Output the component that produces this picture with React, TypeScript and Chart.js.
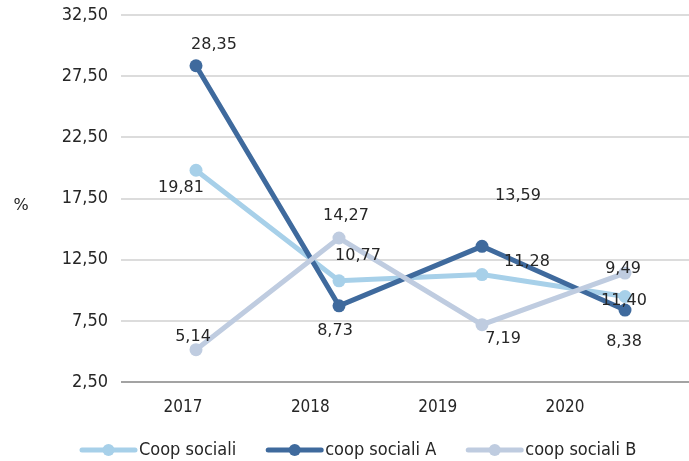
import React, { useEffect, useRef } from 'react';
import { Chart, registerables } from 'chart.js';

Chart.register(...registerables);

const categories = ['2017', '2018', '2019', '2020'];
const seriesNames = ['Coop sociali', 'coop sociali A', 'coop sociali B'];
const coopSociali = [19.81, 10.77, 11.28, 9.49];
const coopSocialiA = [28.35, 8.73, 13.59, 8.38];
const coopSocialiB = [5.14, 14.27, 7.19, 11.4];
const yMin = 2.5;
const yMax = 32.5;
const yStep = 5;

const seriesColors = ['#a7d0e9', '#3f6a9d', '#bfcce0'];

// label offsets (style): [dx, dy] per series per point
const labelOffsets = [
  [[-15, 18], [19, -25], [45, -13], [-2, -28]],
  [[18, -21], [-4, 25], [36, -50], [-1, 32]],
  [[-3, -13], [7, -22], [21, 14], [-1, 28]],
];

const fmt = (v: number) => Number(v).toFixed(2).replace('.', ',');

const dataLabelsPlugin = {
  id: 'dataLabels',
  afterDatasetsDraw(chart: any) {
    const ctx = chart.ctx;
    ctx.save();
    ctx.font = '16px "DejaVu Sans"';
    ctx.fillStyle = '#262626';
    ctx.textAlign = 'center';
    ctx.textBaseline = 'middle';
    chart.data.datasets.forEach((ds: any, i: number) => {
      const meta = chart.getDatasetMeta(i);
      meta.data.forEach((pt: any, j: number) => {
        const [dx, dy] = labelOffsets[i][j];
        ctx.fillText(fmt(ds.data[j].y), pt.x + dx, pt.y + dy);
      });
    });
    ctx.restore();
  },
};

const legendPlugin = {
  id: 'lineLegend',
  afterDraw(chart: any) {
    const ctx = chart.ctx;
    ctx.save();
    // y axis unit
    ctx.font = '16px "DejaVu Sans"';
    ctx.fillStyle = '#262626';
    ctx.textAlign = 'center';
    ctx.textBaseline = 'middle';
    ctx.fillText('%', 21, 206);

    ctx.font = '18px "DejaVu Sans Condensed"';
    ctx.textAlign = 'left';
    let x = 80;
    const y = 450;
    const symW = 57;
    chart.data.datasets.forEach((ds: any) => {
      ctx.strokeStyle = ds.borderColor;
      ctx.lineWidth = 5;
      ctx.lineCap = 'round';
      ctx.beginPath();
      ctx.moveTo(x + 2, y);
      ctx.lineTo(x + symW - 2, y);
      ctx.stroke();
      ctx.fillStyle = ds.borderColor;
      ctx.beginPath();
      ctx.arc(x + symW / 2, y, 6, 0, Math.PI * 2);
      ctx.fill();
      ctx.fillStyle = '#262626';
      ctx.fillText(ds.label, x + symW + 2, y);
      x += symW + 2 + ctx.measureText(ds.label).width + 30;
    });
    ctx.restore();
  },
};

export default function App() {
  const ref = useRef<HTMLCanvasElement | null>(null);

  useEffect(() => {
    if (!ref.current) return;
    const series = [coopSociali, coopSocialiA, coopSocialiB];
    const chart = new Chart(ref.current, {
      type: 'line',
      data: {
        datasets: series.map((vals, i) => ({
          label: seriesNames[i],
          data: vals.map((v, j) => ({ x: j, y: v })),
          borderColor: seriesColors[i],
          backgroundColor: seriesColors[i],
          pointBackgroundColor: seriesColors[i],
          pointBorderColor: seriesColors[i],
          pointBorderWidth: 0,
          pointRadius: 6.5,
          borderWidth: 5,
          tension: 0,
          fill: false,
          order: 2 - i,
          xAxisID: 'x',
          yAxisID: 'y',
        })),
      },
      options: {
        animation: false,
        responsive: false,
        layout: { autoPadding: false, padding: { top: 15, left: 0, right: 0, bottom: 0 } },
        plugins: {
          legend: { display: false },
          tooltip: { enabled: false },
        },
        scales: {
          x: {
            type: 'linear',
            display: false,
            min: -0.5245,
            max: 3.4476,
            ticks: { display: false },
          },
          xl: {
            type: 'linear',
            position: 'bottom',
            min: -0.487,
            max: 3.974,
            afterBuildTicks: (s: any) => {
              s.ticks = categories.map((_, i) => ({ value: i }));
            },
            afterFit: (s: any) => {
              s.height = 79;
            },
            ticks: {
              callback: (v: any) => categories[v] ?? '',
              font: { family: 'DejaVu Sans Condensed', size: 17 },
              color: '#262626',
              padding: 7,
              autoSkip: false,
              maxRotation: 0,
            },
            grid: { display: false },
            border: { display: false },
          },
          y: {
            type: 'linear',
            min: yMin,
            max: yMax,
            afterFit: (s: any) => {
              s.width = 121;
            },
            ticks: {
              stepSize: yStep,
              callback: (v: any) => fmt(v),
              font: { family: 'DejaVu Sans Condensed', size: 18 },
              color: '#262626',
              padding: 0,
            },
            grid: {
              drawTicks: true,
              tickLength: 13,
              tickColor: 'rgba(0,0,0,0)',
              lineWidth: 2,
              color: (c: any) => (c.tick && c.tick.value === yMin ? '#a3a3a3' : '#dcdcdc'),
            },
            border: { display: false },
          },
        },
      },
      plugins: [dataLabelsPlugin, legendPlugin],
    });
    return () => chart.destroy();
  }, []);

  return (
    <div style={{ position: 'absolute', left: 0, top: 0, width: 689, height: 461, background: '#fff' }}>
      <canvas ref={ref} width={689} height={461} style={{ display: 'block' }} />
    </div>
  );
}
